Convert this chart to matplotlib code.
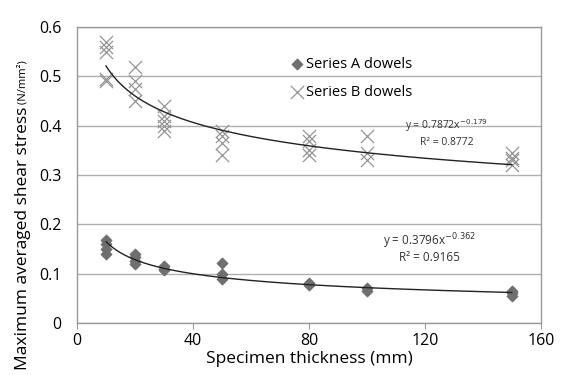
import numpy as np
import matplotlib.pyplot as plt

plt.rcParams['font.family'] = ['Open Sans', 'DejaVu Sans']

# Series A dowels
a_x = [10, 10, 10, 10, 20, 20, 20, 20, 30, 30, 30, 50, 50, 50, 80, 80, 100, 100, 150, 150, 150]
a_y = [0.168, 0.16, 0.15, 0.14, 0.14, 0.133, 0.125, 0.12, 0.115, 0.11, 0.107,
       0.122, 0.1, 0.09, 0.082, 0.078, 0.07, 0.064, 0.065, 0.06, 0.055]

# Series B dowels
b_x = [10, 10, 10, 10, 10, 20, 20, 20, 20, 30, 30, 30, 30, 30,
       50, 50, 50, 50, 80, 80, 80, 80, 100, 100, 100, 150, 150, 150, 150]
b_y = [0.57, 0.56, 0.55, 0.495, 0.49, 0.52, 0.49, 0.475, 0.45, 0.44, 0.42, 0.41, 0.40, 0.39,
       0.39, 0.38, 0.365, 0.34, 0.38, 0.37, 0.35, 0.34, 0.38, 0.345, 0.33, 0.345, 0.335, 0.33, 0.32]

# power trendlines, coefficients as printed on the chart
a_coef, a_exp, a_r2 = 0.3796, -0.362, 0.9165
b_coef, b_exp, b_r2 = 0.7872, -0.179, 0.8772

fig = plt.figure(figsize=(5.68, 3.82), dpi=100)
ax = fig.add_axes([0.1356, 0.1545, 0.8164, 0.7745])

ax.scatter(a_x, a_y, marker='D', s=28, color='#6f6f6f', label='Series A dowels', zorder=3)
ax.scatter(b_x, b_y, marker='x', s=90, color='#959595', linewidths=0.9,
           label='Series B dowels', zorder=3)

xs = np.linspace(10, 150, 200)
ax.plot(xs, a_coef * xs ** a_exp, color='#222222', lw=1.0, zorder=4)
ax.plot(xs, b_coef * xs ** b_exp, color='#222222', lw=1.0, zorder=4)

ax.text(127.5, 0.393, 'y = %.4fx$^{%.3f}$' % (b_coef, b_exp), fontsize=7.5, ha='center', color='#333333')
ax.text(127.5, 0.36, 'R² = %.4f' % b_r2, fontsize=7.5, ha='center', color='#333333')
ax.text(121.5, 0.158, 'y = %.4fx$^{%.3f}$' % (a_coef, a_exp), fontsize=8.5, ha='center', color='#333333')
ax.text(121.5, 0.125, 'R² = %.4f' % a_r2, fontsize=8.5, ha='center', color='#333333')

ax.set_xlim(0, 160)
ax.set_ylim(0, 0.6)
ax.set_xticks([0, 40, 80, 120, 160])
ax.set_yticks([0, 0.1, 0.2, 0.3, 0.4, 0.5, 0.6])
ax.set_yticklabels(['0', '0.1', '0.2', '0.3', '0.4', '0.5', '0.6'])
ax.grid(axis='y', color='#b0b0b0', lw=1.0)
ax.set_axisbelow(True)
for s in ax.spines.values():
    s.set_color('#9a9a9a')
    s.set_linewidth(1.0)
ax.tick_params(axis='both', labelsize=11.5, color='#9a9a9a', length=4)
ax.tick_params(axis='y', length=0, pad=11)

ax.set_xlabel('Specimen thickness (mm)', fontsize=12.5, labelpad=1)
ylab = ax.set_ylabel('Maximum averaged shear stress', fontsize=12.5, labelpad=6)
ylab.set_y(0.285)
ax.annotate(' (N/mm²)', xy=(0.5, 1), xycoords=ylab, rotation=90,
            ha='center', va='bottom', fontsize=8)

ax.legend(loc='upper left', bbox_to_anchor=(0.43, 0.945), frameon=False, fontsize=10.5,
          handletextpad=0.1, labelspacing=0.9, handlelength=1.0)

fig.savefig('out.png', dpi=100)
